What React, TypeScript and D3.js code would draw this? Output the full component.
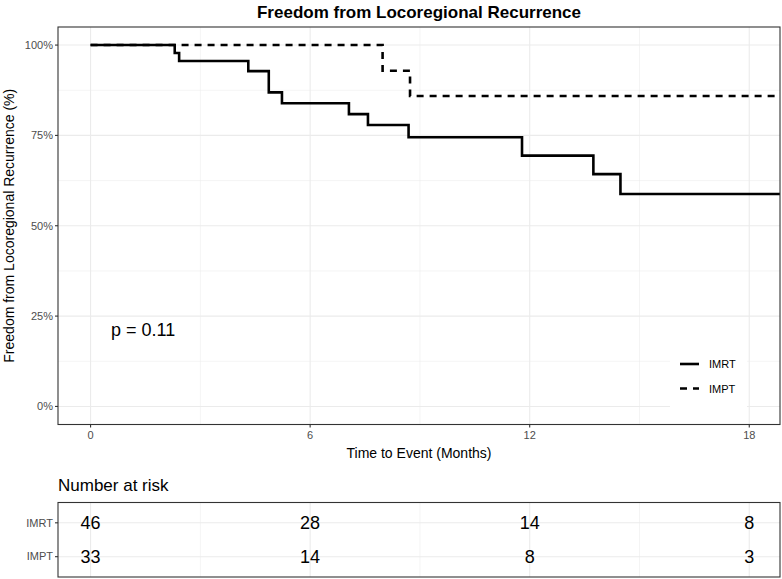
import React from "react";
import * as d3 from "d3";

const imrtTimes = [0, 2.3, 2.42, 4.31, 4.87, 5.23, 7.06, 7.58, 8.69, 11.79, 13.74, 14.48, 18.84];
const imrtSurv = [1, 0.978, 0.956, 0.928, 0.869, 0.839, 0.809, 0.779, 0.745, 0.694, 0.643, 0.588, 0.588];
const imptTimes = [0, 7.98, 8.73, 18.84];
const imptSurv = [1, 0.929, 0.859, 0.859];

const groups = ["IMRT", "IMPT"];
const riskTimes = [0, 6, 12, 18];
const riskIMRT = [46, 28, 14, 8];
const riskIMPT = [33, 14, 8, 3];

const xTicks = [0, 6, 12, 18];
const xMinor = [3, 9, 15];
const yTicks = [0, 0.25, 0.5, 0.75, 1];
const yMinor = [0.125, 0.375, 0.625, 0.875];

const W = 782;
const H = 579;
const FONT = "'Liberation Sans', Arial, Helvetica, sans-serif";

export default function App() {
  const L = 58, R = 780, T = 27, B = 424.5;
  const x = d3.scaleLinear().domain([-0.89, 18.84]).range([L, R]);
  const y = d3.scaleLinear().domain([-0.05, 1.05]).range([B, T]);

  const rt = 502.5, rb = 577;
  const ry = d3.scalePoint<string>().domain(["IMPT", "IMRT"]).range([rb, rt]).padding(0.6);

  const line = d3
    .line<[number, number]>()
    .x((d) => x(d[0]))
    .y((d) => y(d[1]))
    .curve(d3.curveStepAfter);

  const imrtPts: [number, number][] = imrtTimes.map((t, i) => [t, imrtSurv[i]]);
  const imptPts: [number, number][] = imptTimes.map((t, i) => [t, imptSurv[i]]);
  const riskData = [riskIMRT, riskIMPT];

  const grid = "#ebebeb";
  const axisCol = "#4d4d4d";

  return (
    <svg width={W} height={H} style={{ position: "absolute", left: 0, top: 0, fontFamily: FONT }}>
      <rect x={0} y={0} width={W} height={H} fill="white" />
      <defs>
        <clipPath id="panel">
          <rect x={L} y={T} width={R - L} height={B - T} />
        </clipPath>
      </defs>
      {/* title */}
      <text x={(L + R) / 2} y={18} textAnchor="middle" fontWeight="bold" fontSize={17} fill="black">
        Freedom from Locoregional Recurrence
      </text>
      {/* grid */}
      {yMinor.map((v) => (
        <line key={"ym" + v} x1={L} x2={R} y1={y(v)} y2={y(v)} stroke={grid} strokeWidth={0.55} />
      ))}
      {xMinor.map((v) => (
        <line key={"xm" + v} x1={x(v)} x2={x(v)} y1={T} y2={B} stroke={grid} strokeWidth={0.55} />
      ))}
      {yTicks.map((v) => (
        <line key={"yM" + v} x1={L} x2={R} y1={y(v)} y2={y(v)} stroke={grid} strokeWidth={1.1} />
      ))}
      {xTicks.map((v) => (
        <line key={"xM" + v} x1={x(v)} x2={x(v)} y1={T} y2={B} stroke={grid} strokeWidth={1.1} />
      ))}
      {/* curves */}
      <g clipPath="url(#panel)">
        <path d={line(imptPts) || ""} fill="none" stroke="black" strokeWidth={2.6} strokeDasharray="7,6" />
        <path d={line(imrtPts) || ""} fill="none" stroke="black" strokeWidth={2.6} />
      </g>
      {/* p value */}
      <text x={111} y={336} fontSize={18} fill="black">p = 0.11</text>
      {/* legend */}
      <rect x={670} y={346} width={77} height={64} fill="white" />
      {groups.map((g, i) => (
        <g key={g}>
          <line
            x1={680}
            x2={699}
            y1={364 + i * 24.5}
            y2={364 + i * 24.5}
            stroke="black"
            strokeWidth={2.6}
            strokeDasharray={i === 1 ? "7,6" : undefined}
          />
          <text x={709} y={364 + i * 24.5 + 4} fontSize={11} fill="black">{g}</text>
        </g>
      ))}
      {/* panel border */}
      <rect x={L} y={T} width={R - L} height={B - T} fill="none" stroke="#333333" strokeWidth={1.1} />
      {/* y axis */}
      {yTicks.map((v) => (
        <g key={"yt" + v}>
          <line x1={L - 3} x2={L} y1={y(v)} y2={y(v)} stroke="#333333" strokeWidth={1.1} />
          <text x={L - 5} y={y(v) + 3.8} textAnchor="end" fontSize={11} fill={axisCol}>
            {d3.format(".0%")(v)}
          </text>
        </g>
      ))}
      <text
        transform={`translate(14,${(T + B) / 2}) rotate(-90)`}
        textAnchor="middle"
        fontSize={14}
        fill="black"
      >
        Freedom from Locoregional Recurrence (%)
      </text>
      {/* x axis */}
      {xTicks.map((v) => (
        <g key={"xt" + v}>
          <line x1={x(v)} x2={x(v)} y1={B} y2={B + 3} stroke="#333333" strokeWidth={1.1} />
          <text x={x(v)} y={B + 14} textAnchor="middle" fontSize={11} fill={axisCol}>
            {v}
          </text>
        </g>
      ))}
      <text x={(L + R) / 2} y={458} textAnchor="middle" fontSize={14} fill="black">
        Time to Event (Months)
      </text>
      {/* risk table */}
      <text x={L} y={491} fontSize={17} fill="black">Number at risk</text>
      {xMinor.map((v) => (
        <line key={"rxm" + v} x1={x(v)} x2={x(v)} y1={rt} y2={rb} stroke={grid} strokeWidth={0.55} />
      ))}
      {xTicks.map((v) => (
        <line key={"rxM" + v} x1={x(v)} x2={x(v)} y1={rt} y2={rb} stroke={grid} strokeWidth={1.1} />
      ))}
      {groups.map((g) => (
        <line key={"rg" + g} x1={L} x2={R} y1={ry(g)} y2={ry(g)} stroke={grid} strokeWidth={1.1} />
      ))}
      {groups.map((g, gi) =>
        riskTimes.map((t, i) => (
          <text key={g + t} x={x(t)} y={(ry(g) as number) + 6.5} textAnchor="middle" fontSize={18} fill="black">
            {riskData[gi][i]}
          </text>
        ))
      )}
      <rect x={L} y={rt} width={R - L} height={rb - rt} fill="none" stroke="#333333" strokeWidth={1.1} />
      {groups.map((g) => (
        <g key={"rl" + g}>
          <line x1={L - 3} x2={L} y1={ry(g)} y2={ry(g)} stroke="#333333" strokeWidth={1.1} />
          <text x={L - 5} y={(ry(g) as number) + 3.8} textAnchor="end" fontSize={11} fill={axisCol}>
            {g}
          </text>
        </g>
      ))}
    </svg>
  );
}
